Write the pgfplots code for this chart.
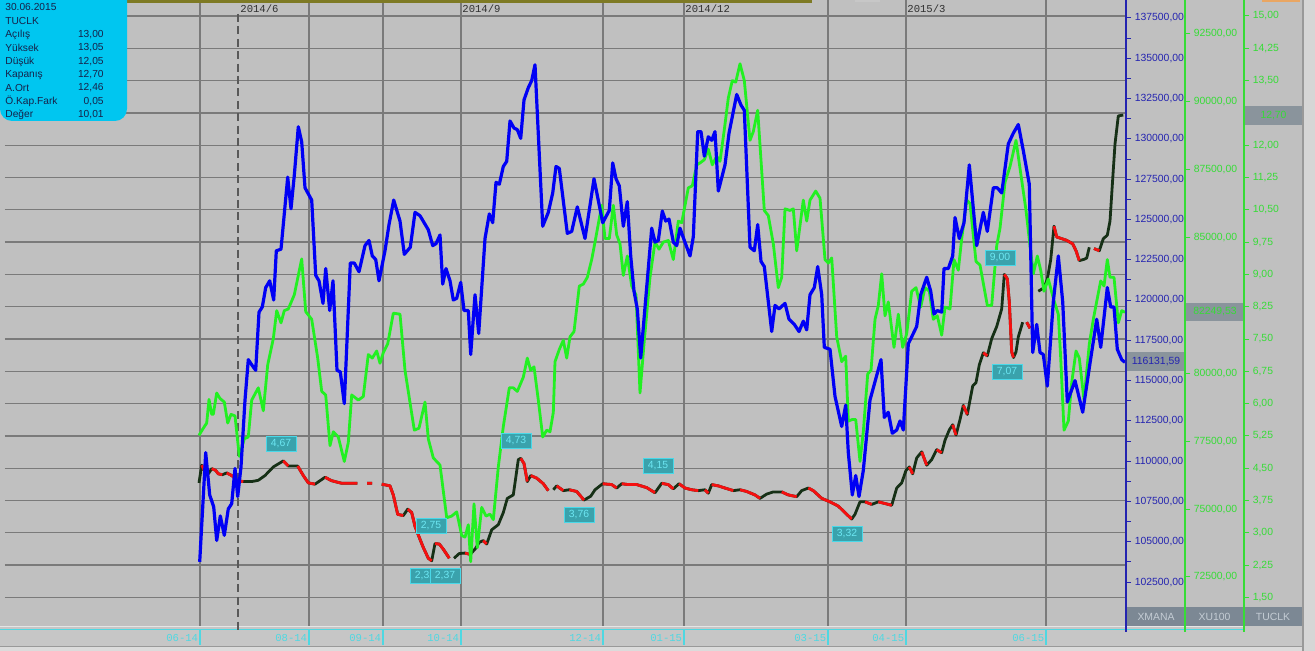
\documentclass[border=0pt]{standalone}
\usepackage{pgfplots}
\pgfplotsset{compat=1.18}
\usepackage{fontspec}
\setmainfont{Liberation Sans}
\newfontfamily\monofont{Liberation Mono}
\definecolor{bg}{HTML}{C0C0C0}
\definecolor{gridc}{HTML}{7A7A7A}
\definecolor{xblue}{HTML}{0000F5}
\definecolor{xgreen}{HTML}{22F022}
\definecolor{tdark}{HTML}{163016}
\definecolor{tred}{HTML}{F51010}
\definecolor{infobg}{HTML}{00C6F0}
\definecolor{infotext}{HTML}{16224A}
\definecolor{annfill}{HTML}{3AA2AC}
\definecolor{anntext}{HTML}{6CE6F2}
\definecolor{anndraw}{HTML}{48D8E8}
\definecolor{boxgray}{HTML}{8A949C}
\definecolor{labgray}{HTML}{7C8894}
\definecolor{labtext}{HTML}{C4CCD4}
\definecolor{bluelab}{HTML}{2424B0}
\definecolor{greenlab}{HTML}{36DC36}
\definecolor{topolive}{HTML}{7E7A24}
\definecolor{cyanline}{HTML}{4ED8E2}
\definecolor{stripbg}{HTML}{C6C6C6}
\definecolor{toptext}{HTML}{303030}
\pgfplotsset{
  myoverlay/.style={scale only axis, anchor=south west, at={(2.5pt,12.5pt)},
    width=560.5pt, height=313pt, xmin=5, xmax=1126, clip=true},
  myscale/.style={scale only axis, anchor=south west, width=10pt, height=313pt,
    xmin=0, xmax=1, axis x line=none, xtick=\empty, axis y line*=right,
    tick align=outside, major tick length=2.6pt, minor tick length=2.6pt,
    minor y tick num=1, scaled y ticks=false,
    yticklabel style={font=\fontsize{5.2}{6}\selectfont, inner sep=1.6pt,
      /pgf/number format/fixed, /pgf/number format/fixed zerofill,
      /pgf/number format/precision=2, /pgf/number format/use comma,
      /pgf/number format/1000 sep={}, /pgf/number format/assume math mode=true}},
}
\begin{document}
\begin{tikzpicture}
\useasboundingbox (0,0) rectangle (657.5pt,325.5pt);
\clip (0,0) rectangle (657.5pt,325.5pt);
% background (pixel coordinates, y downward)
\begin{scope}[x=0.5pt,y=-0.5pt,yshift=325.5pt]
  \fill[bg] (0,0) rectangle (1315,651);
  \fill[stripbg] (0,626) rectangle (1315,651);
  \draw[white!80!gray, line width=0.5pt] (0,627) -- (1244,627);
  \draw[cyanline, line width=0.7pt] (0,629.5) -- (1244,629.5);
  \foreach \x/\l in {200/06-14,309/08-14,383/09-14,461/10-14,603/12-14,684/01-15,828/03-15,906/04-15,1046/06-15}{
    \draw[cyanline, line width=0.6pt] (\x,629.5) -- (\x,645);
    \node[anchor=east, inner sep=0, text=cyanline, font=\monofont\fontsize{5.3}{6}\selectfont] at (\x-1.5,638) {\l};
  }
  \fill[black!40] (0,646) rectangle (1315,647);
  \fill[black!14] (0,647) rectangle (1315,651);
  \fill[black!40] (1302,0) rectangle (1304,651);
  \fill[black!16] (1304,0) rectangle (1315,651);
  \fill[black!22] (855,0) rectangle (880,2);
  \fill[orange!50!brown!70] (1262,0) rectangle (1300,2);
\end{scope}

% base axis: grid + TUCLK price
\begin{axis}[myoverlay, ymin=0.8369, ymax=15.3715,
  axis line style={draw=none},
  xtick={200,309,383,461,603,684,828,906,1046},
  ytick={1.5,2.25,3,3.75,4.5,5.25,6,6.75,7.5,8.25,9,9.75,10.5,11.25,12,12.75,13.5,14.25,15},
  xticklabels={}, yticklabels={}, major tick length=0pt,
  xmajorgrids, ymajorgrids, grid style={gridc, line width=0.65pt},
  unbounded coords=jump]
\addplot[tdark, line width=1.4pt, line join=round] coordinates {
(199,4.16)(201.7,4.57)(204.3,4.45)(208.3,4.37)(211.7,4.49)(215.7,4.45)(218.3,4.37)(222.3,4.35)(226.7,4.39)(231.7,4.33)(238.3,4.21)(243.3,4.19)(251.7,4.19)(258.3,4.22)(265,4.33)(273.3,4.53)(283.3,4.67)(288.3,4.55)(297.7,4.55)(303.3,4.33)(308.3,4.16)(315,4.13)(320,4.21)(325,4.29)(331.7,4.21)(341.7,4.15)(357.3,4.15)(362,nan)(367,4.15)(372,4.15)(377,nan)(381.7,4.13)(390,4.09)(393.3,3.88)(397.7,3.43)(403.3,3.40)(407.7,3.55)(411.7,3.47)(415,3.15)(420,2.85)(423.3,2.66)(428.3,2.41)(431.7,2.35)(435,2.75)(439.3,2.74)(443.3,2.62)(449.3,2.41)(451.5,nan)(454,2.41)(459.3,2.52)(465,2.53)(470,2.50)(475,2.62)(479.3,2.78)(483.3,2.82)(486.7,2.74)(491.7,3.07)(498.3,3.19)(503.3,3.47)(507.3,3.80)(513.3,3.88)(518.3,4.70)(520.7,4.73)(524,4.61)(527.3,4.19)(530.7,4.33)(536.7,4.27)(543.3,4.14)(548.3,3.98)(551,nan)(553.3,4.00)(556.7,4.09)(563.3,3.98)(569.3,4.00)(576.7,3.96)(584,3.76)(590.7,3.85)(595,4.00)(602.7,4.14)(611.7,4.12)(616.7,4.04)(621.7,4.14)(628.3,4.12)(636.7,4.12)(646.7,4.05)(655,3.93)(661.7,4.15)(668.3,4.12)(673.3,4.02)(679,4.14)(685,4.04)(691.7,4.00)(698.3,3.98)(705,4.00)(708.3,3.92)(711.7,4.12)(718.3,4.09)(725,4.04)(733.3,3.98)(740,4.00)(746.7,3.96)(755,3.88)(760,3.80)(766.7,3.90)(773.3,3.95)(781.7,3.95)(788.3,3.88)(796.7,3.84)(801.7,3.98)(808.3,4.04)(813.3,3.98)(821.7,3.80)(830,3.72)(838.3,3.62)(846.7,3.43)(851.7,3.32)(855,3.43)(860,3.72)(865,3.72)(871.7,3.66)(878.3,3.72)(885,3.68)(891.7,3.64)(896.7,4.04)(901.7,4.16)(906,4.45)(909.3,4.53)(912.7,4.37)(916.7,4.74)(921.7,4.88)(926.7,4.57)(931.7,4.70)(936.7,4.93)(941.7,4.86)(945,5.15)(949.3,5.39)(952.7,5.51)(956,5.27)(960,5.63)(963.3,5.96)(967.3,5.75)(972.7,6.41)(976,6.49)(979.3,6.90)(983.3,7.18)(987.3,7.11)(991.7,7.51)(996.7,7.79)(1001.7,8.20)(1004.3,9.00)(1007.3,8.90)(1009.3,8.36)(1011.7,7.20)(1013.5,7.07)(1016,7.20)(1018.3,7.55)(1022.7,7.89)(1024.7,nan)(1026.7,7.89)(1030,7.75)(1034,nan)(1038.3,8.61)(1044,8.69)(1047.3,8.89)(1050.7,9.34)(1054,10.12)(1056.7,9.87)(1061.7,9.83)(1066.7,9.79)(1072.7,9.71)(1076,9.55)(1079.3,9.32)(1084,9.35)(1086.7,9.38)(1089.3,9.63)(1091.5,nan)(1094,9.60)(1099.3,9.55)(1103.3,9.83)(1107.3,9.91)(1110,10.24)(1112.7,11.22)(1115,12.03)(1118.3,12.68)(1123.3,12.70)
};
\addplot[tred, line width=1.4pt, line join=round] coordinates {
(201.7,4.57)(204.3,4.45)(208.3,4.37)(210,nan)
(211.7,4.49)(215.7,4.45)(218.3,4.37)(222.3,4.35)(224,nan)
(226.7,4.39)(231.7,4.33)(238.3,4.21)(243.3,4.19)(245,nan)
(283.3,4.67)(288.3,4.55)(290,nan)
(297.7,4.55)(303.3,4.33)(308.3,4.16)(315,4.13)(317,nan)
(325,4.29)(331.7,4.21)(341.7,4.15)(357.3,4.15)(362,nan)
(367,4.15)(372,4.15)(377,nan)
(381.7,4.13)(390,4.09)(393.3,3.88)(397.7,3.43)(403.3,3.40)(405,nan)
(407.7,3.55)(411.7,3.47)(415,3.15)(420,2.85)(423.3,2.66)(428.3,2.41)(431.7,2.35)(433,nan)
(435,2.75)(439.3,2.74)(443.3,2.62)(449.3,2.41)(451.5,nan)
(465,2.53)(470,2.50)(472,nan)
(483.3,2.82)(486.7,2.74)(488,nan)
(520.7,4.73)(524,4.61)(527.3,4.19)(529,nan)
(530.7,4.33)(536.7,4.27)(543.3,4.14)(548.3,3.98)(551,nan)
(556.7,4.09)(563.3,3.98)(566,nan)
(569.3,4.00)(576.7,3.96)(584,3.76)(586,nan)
(602.7,4.14)(611.7,4.12)(616.7,4.04)(619,nan)
(621.7,4.14)(628.3,4.12)(636.7,4.12)(646.7,4.05)(655,3.93)(658,nan)
(661.7,4.15)(668.3,4.12)(673.3,4.02)(676,nan)
(679,4.14)(685,4.04)(691.7,4.00)(698.3,3.98)(701,nan)
(705,4.00)(708.3,3.92)(710,nan)
(711.7,4.12)(718.3,4.09)(725,4.04)(733.3,3.98)(736,nan)
(740,4.00)(746.7,3.96)(755,3.88)(760,3.80)(763,nan)
(781.7,3.95)(788.3,3.88)(796.7,3.84)(799,nan)
(808.3,4.04)(813.3,3.98)(821.7,3.80)(830,3.72)(838.3,3.62)(846.7,3.43)(851.7,3.32)(853,nan)
(865,3.72)(871.7,3.66)(875,nan)
(878.3,3.72)(885,3.68)(891.7,3.64)(894,nan)
(909.3,4.53)(912.7,4.37)(914,nan)
(921.7,4.88)(926.7,4.57)(929,nan)
(936.7,4.93)(941.7,4.86)(943,nan)
(952.7,5.51)(956,5.27)(958,nan)
(963.3,5.96)(967.3,5.75)(970,nan)
(983.3,7.18)(987.3,7.11)(989,nan)
(1004.3,9.00)(1007.3,8.90)(1009.3,8.36)(1011.7,7.20)(1013.5,7.07)(1014.5,nan)
(1026.7,7.89)(1030,7.75)(1034,nan)
(1054,10.12)(1056.7,9.87)(1061.7,9.83)(1066.7,9.79)(1072.7,9.71)(1076,9.55)(1079.3,9.32)(1081,nan)
(1094,9.60)(1099.3,9.55)
};
\end{axis}

% cursor line and top bar
\begin{scope}[x=0.5pt,y=-0.5pt,yshift=325.5pt]
  \draw[black!65, line width=0.9pt, dash pattern=on 4pt off 2.2pt] (238,14) -- (238,632);
  \fill[topolive] (127,0) rectangle (812,3);
\end{scope}

% XU100 (green)
\begin{axis}[myoverlay, ymin=70695, ymax=93752, hide axis]
\addplot[xgreen, line width=1.4pt, line join=round] coordinates {
(199,77718)(203.3,77980)(206.7,78170)(209,79039)(211.7,78491)(213.3,78491)(216.7,79277)(220,79074)(224.3,78944)(227.7,78170)(231,78491)(235,78432)(239.3,76944)(244.3,77587)(248.3,77658)(251.7,79015)(258.3,79467)(263.3,78622)(267.7,80312)(273.3,81276)(276.7,82311)(281,81859)(284.3,82311)(288.3,82371)(294.3,82894)(301.7,84215)(305.7,82276)(311.7,81990)(317.7,80562)(321.7,79336)(325.7,79205)(330,77337)(333.3,77849)(338.3,77658)(344.3,76754)(348.3,77456)(351.7,79205)(358.3,79015)(363.3,79146)(368.3,80693)(372.3,80562)(376.7,80824)(380,80372)(383.3,80764)(387.7,81085)(393.3,82216)(400,82180)(405,80110)(414.3,77908)(419,77980)(425,78944)(428.3,77587)(433.3,76885)(440,76623)(446.7,74683)(451.7,74743)(456.7,74898)(461.7,74029)(465,73969)(468.3,74422)(470.7,73065)(474,75195)(477.3,73577)(481.7,75064)(486,74743)(490,74814)(493.3,74612)(498.3,76552)(503.3,78039)(509.3,79467)(513.3,79467)(517.3,79336)(523.3,79860)(527.3,80562)(530.7,80110)(534,80241)(538.3,79015)(542.7,77658)(546.7,77908)(550,77849)(553.3,78562)(555,80431)(559.3,80883)(563.3,81216)(566.7,80562)(570,81347)(574,81538)(579.3,83216)(583.3,83287)(587.3,83537)(591.7,84191)(595,84834)(601.7,86191)(605,84965)(609.3,84965)(613.3,86191)(616.7,85096)(620,84774)(623.3,83608)(627.3,84322)(631.7,83216)(636,82894)(640,79277)(644,81085)(650,83537)(655,84834)(659,84572)(663.3,84834)(668.3,84894)(673.3,84191)(678.3,85608)(681.7,85548)(685.7,86321)(688.3,86833)(692.3,86905)(696.7,87678)(700,87749)(704.3,87869)(708.3,88261)(712.3,87678)(716.7,87999)(720,87809)(724.3,88975)(728.3,90141)(732.3,90784)(735.7,90724)(740,91403)(744.3,90784)(750,88583)(753.3,88904)(757.7,89689)(764.3,86000)(768.3,85810)(773.3,84774)(778.3,83156)(781.7,83537)(785,86060)(790,86000)(793.3,86060)(796.7,84513)(803.3,86381)(806.7,85608)(810,86381)(815.7,86714)(820,86453)(825,84191)(828.3,84060)(831.7,84251)(836.7,81347)(841.7,80431)(845.7,80633)(848.3,78241)(852.3,78301)(855.7,78301)(860,76754)(863.3,77849)(867.7,79979)(871,80110)(875,81990)(878.3,82502)(881.7,83668)(885,82121)(888.3,82633)(894,80955)(898.3,82180)(902.7,80955)(906.7,81466)(911.7,83025)(916,83156)(920.7,82442)(925,83156)(929.3,83025)(933.3,81990)(937.3,82121)(941.7,81407)(945,82442)(950,82371)(954,84191)(958.3,83799)(961.7,84965)(966.7,86381)(970,86262)(976,84120)(980,83989)(987.3,82502)(991.7,82502)(996.7,84703)(1000,85346)(1005,87036)(1010,87619)(1016,88583)(1020,87547)(1026,86000)(1030,84703)(1033.3,83668)(1037.3,84322)(1040.7,83799)(1044,83025)(1048.3,83477)(1053.3,82763)(1058.3,82180)(1060.7,80562)(1064,77908)(1068.3,78241)(1071.7,79658)(1076,80824)(1079.3,80562)(1084,79015)(1089.3,81085)(1093.3,81990)(1097.3,82763)(1100.7,83406)(1104,83216)(1107.3,84191)(1110,83537)(1114,83537)(1118.3,81859)(1121.7,82311)(1125,82249.53)
};
\end{axis}

% XMANA (blue)
\begin{axis}[myoverlay, ymin=99773, ymax=138617, hide axis]
\addplot[xblue, line width=1.6pt, line join=round] coordinates {
(199.7,103756)(205.7,110530)(209.7,107905)(213.7,107163)(216.7,105079)(220.3,106603)(224.3,105400)(228.3,107043)(231.7,107363)(235,109549)(237.7,107805)(241,109648)(245,113797)(248.3,116302)(251.7,115981)(255.7,115640)(259,119247)(262.3,119568)(265.7,120771)(269.7,121191)(273.7,119999)(276.3,123055)(281,123155)(287.7,127624)(291,125660)(294.3,127744)(298.3,130750)(301.7,129808)(305,126963)(311.7,126201)(315.7,121532)(319,121191)(323,119789)(325.7,121952)(329.7,119348)(333,121191)(337,115640)(340.3,115540)(344.3,113576)(350.3,122294)(354.3,122294)(359,121753)(365,123376)(369,123696)(372.3,122734)(375.7,122514)(379,121191)(385,123055)(389,124678)(393.7,126201)(400,124899)(404.3,122834)(410.3,123275)(415,125440)(420,125230)(428.3,124358)(432.7,123376)(436,123496)(440,124037)(442.7,120991)(446,121952)(450,121191)(453.3,119999)(456.7,120109)(460.7,121091)(464,119348)(468.3,119348)(470.7,116622)(475,120329)(478.7,117925)(485,123816)(489.3,125340)(492.7,124798)(496,127303)(499.3,127183)(503.3,128286)(506.7,128606)(510,131111)(514,130670)(517.3,130570)(520.7,130029)(524,132414)(528.3,133175)(531.7,133616)(535,134598)(542.7,124578)(548.3,125440)(552.7,126642)(556,128286)(559.3,128165)(567.3,124137)(571.7,124257)(577.3,125780)(585,123816)(594,127524)(602.7,124798)(609.3,125560)(612.7,128506)(616,127524)(619.3,127083)(623.3,124578)(627.3,126101)(630.7,122734)(634,120550)(637.3,119448)(640.7,116402)(651.7,124458)(655,123596)(658.3,123696)(662.3,125520)(665.7,124899)(669,125019)(673.3,123596)(676.7,123376)(680,124458)(684.3,123696)(690,122734)(693.3,123917)(697.7,130450)(701,130450)(704.3,128927)(708.3,130129)(711.7,129909)(715,130450)(718.3,126762)(725,128386)(729,130350)(736.7,132754)(741,132093)(744.3,131772)(750,123275)(754.3,123055)(757.7,124678)(761,122394)(764.3,122073)(771.7,118045)(775,119668)(779,119448)(785,119789)(789,118807)(794.3,118486)(799,118045)(803.3,118686)(806.7,118145)(810,120329)(814.3,120771)(817.7,122073)(821.7,120329)(824.3,117063)(830,116943)(835,114017)(841.7,112154)(845.7,113476)(848.3,110530)(852.3,107905)(855.7,109107)(859,107805)(863.3,109428)(870,113797)(881,116302)(884.3,112715)(888.3,113036)(892.3,111733)(896.7,111934)(900,112495)(903.3,111934)(908.3,117283)(913.3,117925)(916.7,118366)(920.7,120329)(926.7,121411)(930.7,120550)(934,119127)(937.3,119348)(941.7,119247)(944,121952)(948.3,121952)(952.7,122734)(955,125119)(959.3,123816)(964,124798)(969.3,128386)(976.7,123376)(983.3,125440)(987.3,124257)(993.3,126963)(997.3,126963)(1001.7,126642)(1008.3,129688)(1013.3,130350)(1018.3,130891)(1023.3,129267)(1029.3,127183)(1032.7,116742)(1036.7,118486)(1040,116742)(1043.3,116622)(1047.3,114659)(1053.3,119889)(1058.3,122734)(1062.7,119889)(1067.3,113676)(1075,114999)(1082.7,113036)(1090,116082)(1096.7,118807)(1100.7,117063)(1107.3,120771)(1110.7,119568)(1114,119568)(1117.3,116943)(1121.7,116302)(1125,116131.59)
};
\end{axis}

% overlays in pixel coordinates
\begin{scope}[x=0.5pt,y=-0.5pt,yshift=325.5pt]
  \tikzset{ann/.style={fill=annfill, draw=anndraw, line width=0.4pt, text=anntext,
     font=\fontsize{5.2}{6}\selectfont, minimum width=15pt, minimum height=7.5pt, inner sep=0pt}}
  \node[ann] at (281,444) {4,67};
  \node[ann] at (431,526) {2,75};
  \node[ann] at (425,576) {2,32};
  \node[ann] at (445,576) {2,37};
  \node[ann] at (516,441) {4,73};
  \node[ann] at (579,515) {3,76};
  \node[ann] at (658,466) {4,15};
  \node[ann] at (847,534) {3,32};
  \node[ann] at (1000,258) {9,00};
  \node[ann] at (1007,372) {7,07};
  % info box
  \fill[infobg] (0,0) -- (127,0) {[rounded corners=6pt] -- (127,121) -- (0,121)} -- cycle;
  \begin{scope}[every node/.style={inner sep=0pt, text=infotext, font=\fontsize{5.1}{6}\selectfont}]
    \node[anchor=west] at (5,7.5) {30.06.2015};
    \node[anchor=west] at (5,21.5) {TUCLK};
    \foreach \y/\a/\b in {34.5/Açılış/{13,00}, 48/Yüksek/{13,05}, 61.5/Düşük/{12,05}, 75/Kapanış/{12,70}, 88/A.Ort/{12,46}, 101.5/Ö.Kap.Fark/{0,05}, 115/Değer/{10,01}}{
      \node[anchor=west] at (5,\y) {\a};
      \node[anchor=east] at (104,\y) {\b};
    }
  \end{scope}
  % top date labels
  \foreach \x/\l in {240/2014\slash 6, 462/2014\slash 9, 685/2014\slash 12, 907/2015\slash 3}{
    \node[anchor=west, inner sep=0, text=toptext, font=\monofont\fontsize{5.3}{6}\selectfont] at (\x,8.5) {\l};
  }
\end{scope}

% scale axes (the ticks hidden under the value boxes carry no label)
\begin{axis}[myscale, at={(553pt,12.5pt)}, ymin=99773, ymax=138617,
  ytick={102500,105000,107500,110000,112500,115000,117500,120000,122500,125000,127500,130000,132500,135000,137500},
  y axis line style={bluelab, line width=0.7pt}, ytick style={bluelab, line width=0.5pt},
  yticklabel style={text=bluelab}]
\end{axis}
\begin{axis}[myscale, at={(582.5pt,12.5pt)}, ymin=70695, ymax=93752,
  ytick={72500,75000,77500,80000,85000,87500,90000,92500},
  y axis line style={greenlab, line width=0.6pt}, ytick style={greenlab, line width=0.5pt},
  yticklabel style={text=greenlab}]
\end{axis}
\begin{axis}[myscale, at={(612pt,12.5pt)}, ymin=0.8369, ymax=15.3715,
  ytick={1.5,2.25,3,3.75,4.5,5.25,6,6.75,7.5,8.25,9,9.75,10.5,11.25,12,13.5,14.25,15},
  y axis line style={greenlab, line width=0.6pt}, ytick style={greenlab, line width=0.5pt},
  yticklabel style={text=greenlab}]
\end{axis}

% value boxes and series name boxes (on top of the scales)
\begin{scope}[x=0.5pt,y=-0.5pt,yshift=325.5pt]
  \fill[boxgray] (1127,352) rectangle (1185,371);
  \node[text=bluelab, font=\fontsize{5.2}{6}\selectfont, inner sep=0] at (1156,361.5) {116131,59};
  \fill[boxgray] (1186,303) rectangle (1244,321);
  \node[text=greenlab, font=\fontsize{5.2}{6}\selectfont, inner sep=0] at (1215,312) {82249,53};
  \fill[boxgray] (1245,106) rectangle (1302,125);
  \node[text=greenlab, font=\fontsize{5.2}{6}\selectfont, inner sep=0] at (1273.5,115.5) {12,70};
  \fill[labgray] (1127,607) rectangle (1302,626);
  \node[text=labtext, font=\fontsize{5.2}{6}\selectfont, inner sep=0] at (1156,616.5) {XMANA};
  \node[text=labtext, font=\fontsize{5.2}{6}\selectfont, inner sep=0] at (1214.5,616.5) {XU100};
  \node[text=labtext, font=\fontsize{5.2}{6}\selectfont, inner sep=0] at (1273,616.5) {TUCLK};
  \draw[bluelab, line width=0.7pt] (1126,0) -- (1126,632);
  \draw[greenlab, line width=0.6pt] (1185,0) -- (1185,632);
  \draw[greenlab, line width=0.6pt] (1244,0) -- (1244,632);
\end{scope}
\end{tikzpicture}
\end{document}
